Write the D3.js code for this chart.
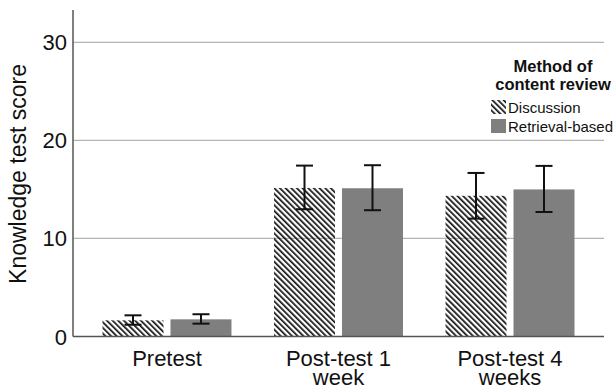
<!DOCTYPE html>
<html>
<head>
<meta charset="utf-8">
<script src="https://cdn.jsdelivr.net/npm/d3@7"></script>
<style>
  body { margin: 0; background: #fff; }
  text { font-family: "Liberation Sans", Arial, sans-serif; fill: #111; }
</style>
</head>
<body>
<div id="chart"></div>
<script>
// data
var categories = [["Pretest"], ["Post-test 1", "week"], ["Post-test 4", "weeks"]];
var seriesNames = ["Discussion", "Retrieval-based"];
var discussionMean = [1.65, 15.15, 14.35];
var discussionLow = [1.2, 12.98, 12.02];
var discussionHigh = [2.16, 17.43, 16.68];
var retrievalMean = [1.75, 15.12, 15.0];
var retrievalLow = [1.31, 12.88, 12.7];
var retrievalHigh = [2.27, 17.47, 17.4];
var yTicks = [0, 10, 20, 30];

var width = 614;
var height = 388;

var svg = d3.select("#chart")
  .append("svg")
  .attr("width", width)
  .attr("height", height);

// hatch pattern for discussion bars
var defs = svg.append("defs");
defs.append("pattern")
  .attr("id", "hatch")
  .attr("patternUnits", "userSpaceOnUse")
  .attr("width", 4)
  .attr("height", 4)
  .attr("patternTransform", "rotate(-45)")
  .append("rect")
    .attr("x", 0).attr("y", 0)
    .attr("width", 1.7).attr("height", 4)
    .style("fill", "#111");

var catKeys = categories.map(function(c) { return c.join(" "); });

var x = d3.scaleBand()
  .domain(catKeys)
  .range([73, 604])
  .paddingInner(0.248)
  .paddingOuter(0.172);

var xSub = d3.scaleBand()
  .domain(seriesNames)
  .range([0, x.bandwidth()])
  .paddingInner(0.103);

var y = d3.scaleLinear()
  .domain([0, 33.3])
  .range([336.5, 10]);

// gridlines
svg.append("g")
  .selectAll("line")
  .data(yTicks.slice(1))
  .enter()
  .append("line")
    .attr("x1", 73).attr("x2", 604)
    .attr("y1", function(d) { return y(d); })
    .attr("y2", function(d) { return y(d); })
    .style("stroke", "#b4b4b4")
    .style("stroke-width", 1.3);

// build rows
var rows = [];
for (var i = 0; i < catKeys.length; i++) {
  rows.push({cat: catKeys[i], series: seriesNames[0], mean: discussionMean[i], lo: discussionLow[i], hi: discussionHigh[i]});
  rows.push({cat: catKeys[i], series: seriesNames[1], mean: retrievalMean[i], lo: retrievalLow[i], hi: retrievalHigh[i]});
}

// bars
svg.append("g")
  .selectAll("rect")
  .data(rows)
  .enter()
  .append("rect")
    .attr("x", function(d) { return x(d.cat) + xSub(d.series); })
    .attr("y", function(d) { return y(d.mean); })
    .attr("width", xSub.bandwidth())
    .attr("height", function(d) { return y(0) - y(d.mean); })
    .style("fill", function(d) { return d.series == seriesNames[0] ? "url(#hatch)" : "#7f7f7f"; });

// error bars
var eb = svg.append("g")
  .selectAll("g")
  .data(rows)
  .enter()
  .append("g")
  .attr("transform", function(d) {
    return "translate(" + (x(d.cat) + xSub(d.series) + xSub.bandwidth() / 2) + ",0)";
  });
eb.append("line")
  .attr("x1", 0).attr("x2", 0)
  .attr("y1", function(d) { return y(d.lo); })
  .attr("y2", function(d) { return y(d.hi); });
eb.append("line")
  .attr("x1", -8.5).attr("x2", 8.5)
  .attr("y1", function(d) { return y(d.lo); })
  .attr("y2", function(d) { return y(d.lo); });
eb.append("line")
  .attr("x1", -8.5).attr("x2", 8.5)
  .attr("y1", function(d) { return y(d.hi); })
  .attr("y2", function(d) { return y(d.hi); });
eb.selectAll("line")
  .style("stroke", "#111")
  .style("stroke-width", 2);

// axes lines
svg.append("line")
  .attr("x1", 73).attr("x2", 73)
  .attr("y1", y(33.3)).attr("y2", y(0))
  .style("stroke", "#555").style("stroke-width", 1.5);
svg.append("line")
  .attr("x1", 73).attr("x2", 604)
  .attr("y1", y(0)).attr("y2", y(0))
  .style("stroke", "#555").style("stroke-width", 1.5);

// y tick labels
svg.append("g")
  .selectAll("text")
  .data(yTicks)
  .enter()
  .append("text")
    .attr("x", 67)
    .attr("y", function(d) { return y(d) + 8; })
    .attr("text-anchor", "end")
    .style("font-size", "22px")
    .text(function(d) { return d; });

// x category labels
var xl = svg.append("g")
  .selectAll("text")
  .data(categories)
  .enter()
  .append("text")
    .attr("x", function(d) { return x(d.join(" ")) + x.bandwidth() / 2; })
    .attr("y", 365.5)
    .attr("text-anchor", "middle")
    .style("font-size", "22px");
xl.selectAll("tspan")
  .data(function(d) { return d; })
  .enter()
  .append("tspan")
    .attr("x", function() { return d3.select(this.parentNode).attr("x"); })
    .attr("dy", function(d, i) { return i == 0 ? 0 : 19; })
    .text(function(d) { return d; });

// y axis title
svg.append("text")
  .attr("transform", "translate(26,174) rotate(-90)")
  .attr("text-anchor", "middle")
  .style("font-size", "23px")
  .text("Knowledge test score");

// legend
var legend = svg.append("g");
legend.append("text")
  .attr("x", 553).attr("y", 72)
  .attr("text-anchor", "middle")
  .style("font-size", "16.5px")
  .style("font-weight", "bold")
  .text("Method of");
legend.append("text")
  .attr("x", 553).attr("y", 89.5)
  .attr("text-anchor", "middle")
  .style("font-size", "16.5px")
  .style("font-weight", "bold")
  .text("content review");

var items = legend.selectAll("g.item")
  .data(seriesNames)
  .enter()
  .append("g")
  .attr("class", "item")
  .attr("transform", function(d, i) { return "translate(491," + (100 + i * 19) + ")"; });
items.append("rect")
  .attr("width", 15).attr("height", 14)
  .style("fill", function(d, i) { return i == 0 ? "url(#hatch)" : "#7f7f7f"; });
items.append("text")
  .attr("x", 17).attr("y", 13)
  .style("font-size", "15px")
  .text(function(d) { return d; });
</script>
</body>
</html>
